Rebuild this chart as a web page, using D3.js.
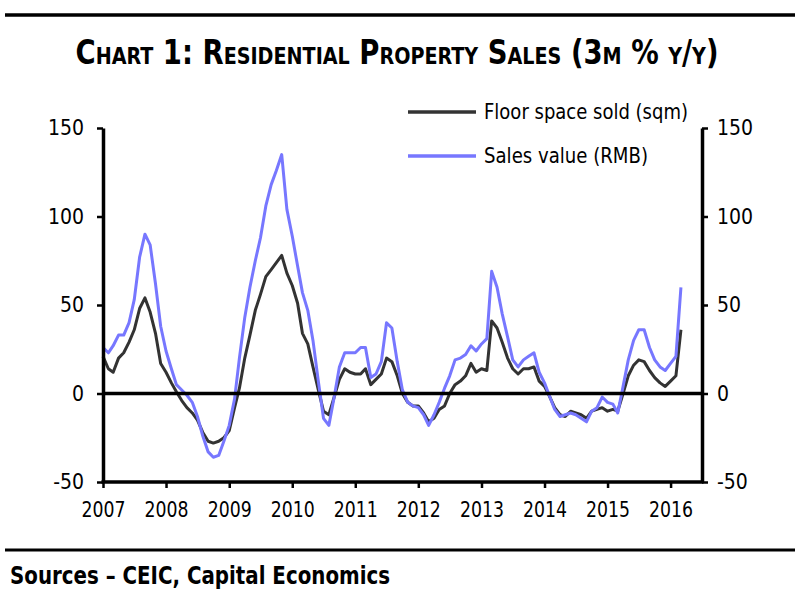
<!DOCTYPE html>
<html><head><meta charset="utf-8">
<script src="https://cdn.jsdelivr.net/npm/d3@7"></script>
<style>
html,body{margin:0;padding:0;background:#fff;}
svg{display:block;}
text{font-family:"Liberation Sans Narrow","DejaVu Sans Condensed","Roboto Condensed",sans-serif;fill:#000;}
</style></head>
<body>
<svg id="c" width="800" height="600"></svg>
<script>
// ---- data ----
const startMonth = "2007-01";
const floorSpace = [21,14,12,20,23,29,36,48,54,46,34,17,
  12,6,1,-4,-8,-11,-15,-22,-27,-28,-27,-25,
  -21,-8,3,20,33,47,56,66,70,74,78,68,
  61,51,34,28,15,2,-10,-12,-2,8,14,12,
  11,11,14,5,8,11,20,18,10,0,-5,-7,
  -7,-11,-16,-14,-9,-7,0,5,7,10,17,12,
  14,13,41,37,29,20,14,11,14,14,15,7,
  4,-2,-8,-12,-13,-10,-11,-12,-14,-10,-9,-8,
  -10,-9,-10,0,10,16,19,18,13,9,6,4,
  7,10,36];
const salesValue = [26,23,27,33,33,40,53,77,90,84,62,38,
  24,14,5,2,-1,-5,-13,-24,-33,-36,-35,-27,
  -18,-3,20,43,60,75,88,106,118,126,135,104,
  89,72,57,47,30,7,-14,-18,-2,15,23,23,
  23,26,26,9,11,18,40,37,18,2,-5,-7,
  -8,-12,-18,-12,-5,3,10,19,20,22,27,24,
  28,31,69,60,45,32,19,15,19,21,23,12,
  6,-2,-9,-13,-12,-11,-12,-14,-16,-10,-8,-2,
  -5,-6,-11,4,19,30,36,36,26,19,15,13,
  17,21,60];
const yTicks = [150,100,50,0,-50];
const xTickYears = [2007,2008,2009,2010,2011,2012,2013,2014,2015,2016];
const seriesNames = ["Floor space sold (sqm)","Sales value (RMB)"];
const seriesColors = ["#333333","#7777ff"];
const titleText = "Chart 1: Residential Property Sales (3m % y/y)";
const sourceText = "Sources \u2013 CEIC, Capital Economics";

// ---- layout ----
const svg = d3.select("#c");
const L = 103, R = 702, T = 128, B = 482;
const parse = d3.timeParse("%Y-%m");
const t0 = parse(startMonth);
const dates = floorSpace.map((_, i) => d3.timeMonth.offset(t0, i));

const x = d3.scaleTime().domain([new Date(2007,0,1), new Date(2016,6,1)]).range([L, R]);
const y = d3.scaleLinear().domain([-50,150]).range([B, T]);

// top rule
svg.append("line").attr("x1",5).attr("x2",795).attr("y1",15).attr("y2",15)
  .attr("stroke","#000").attr("stroke-width",3.5);
// title
svg.append("text").attr("x",397).attr("y",64).attr("text-anchor","middle")
  .style("font-size","33px").style("font-weight","bold").style("font-variant","small-caps")
  .attr("textLength",643).attr("lengthAdjust","spacingAndGlyphs")
  .text(titleText);

// lines
const line = d3.line().x((d,i)=>x(dates[i])).y(d=>y(d));
const g = svg.append("g");
g.append("path").datum(floorSpace).attr("d",line).attr("fill","none")
  .attr("stroke",seriesColors[0]).attr("stroke-width",3).attr("stroke-linejoin","round");
g.append("path").datum(salesValue).attr("d",line).attr("fill","none")
  .attr("stroke",seriesColors[1]).attr("stroke-width",3).attr("stroke-linejoin","round");

// zero line
svg.append("line").attr("x1",L).attr("x2",R).attr("y1",y(0)).attr("y2",y(0))
  .attr("stroke","#000").attr("stroke-width",3.5);

// axes
const fmt = d => String(d);
const yl = svg.append("g").attr("transform",`translate(${L},0)`)
  .call(d3.axisLeft(y).tickValues(yTicks).tickSize(6).tickSizeOuter(0).tickPadding(13).tickFormat(fmt));
const yr = svg.append("g").attr("transform",`translate(${R},0)`)
  .call(d3.axisRight(y).tickValues(yTicks).tickSize(6).tickSizeOuter(0).tickPadding(9).tickFormat(fmt));
const xa = svg.append("g").attr("transform",`translate(0,${B})`)
  .call(d3.axisBottom(x).tickValues(xTickYears.map(v=>new Date(v,0,1))).tickSize(6).tickSizeOuter(0).tickPadding(14)
    .tickFormat(d3.timeFormat("%Y")));
[yl,yr,xa].forEach(a=>{
  a.select(".domain").attr("stroke","#000").attr("stroke-width",3.5);
  a.selectAll(".tick line").attr("stroke","#000").attr("stroke-width",2.5);
  a.selectAll(".tick text").style("font-size","21px").attr("fill","#000");
});
xa.selectAll(".tick text").attr("textLength",44).attr("lengthAdjust","spacingAndGlyphs");
xa.select(".domain").attr("d",`M${L-1.5},0H${R+1.5}`);

// legend
const legW = [204,164];
const leg = svg.append("g");
[0,1].forEach(i=>{
  const ly = 112 + i*44;
  leg.append("line").attr("x1",408).attr("x2",476).attr("y1",ly).attr("y2",ly)
    .attr("stroke",seriesColors[i]).attr("stroke-width",3.5);
  leg.append("text").attr("x",484).attr("y",ly+7).style("font-size","22px")
    .attr("textLength",legW[i]).attr("lengthAdjust","spacingAndGlyphs").text(seriesNames[i]);
});

// bottom rule & source
svg.append("line").attr("x1",5).attr("x2",795).attr("y1",550).attr("y2",550)
  .attr("stroke","#000").attr("stroke-width",3);
svg.append("text").attr("x",10).attr("y",584).style("font-size","24px").style("font-weight","bold")
  .attr("textLength",380).attr("lengthAdjust","spacingAndGlyphs").text(sourceText);
</script>
</body></html>
